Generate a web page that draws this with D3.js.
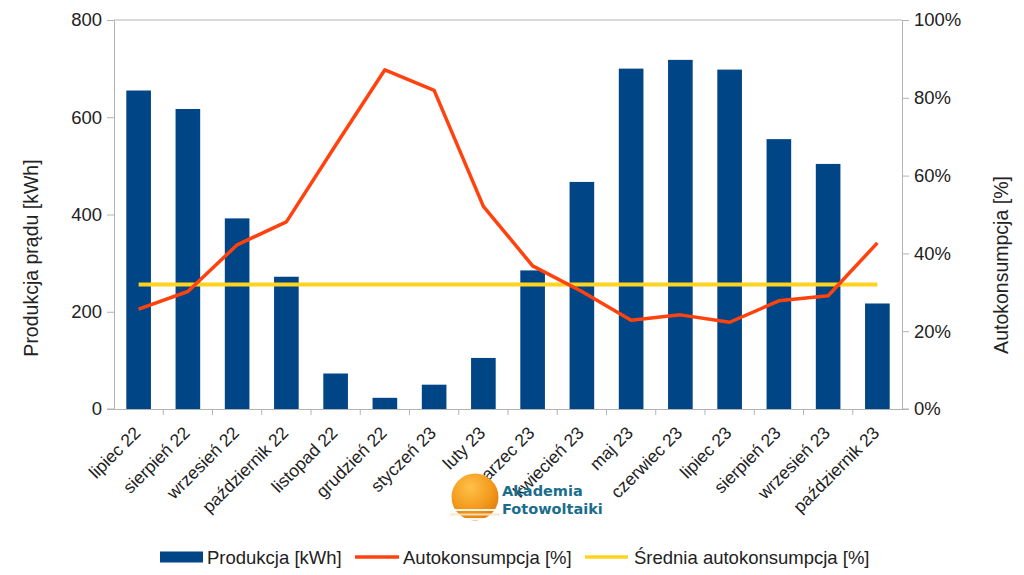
<!DOCTYPE html>
<html><head><meta charset="utf-8">
<script src="https://cdn.jsdelivr.net/npm/d3@7"></script>
<style>
body{margin:0;background:#fff;}
svg{display:block;font-family:"Liberation Sans",Arial,sans-serif;}
</style></head><body>
<svg id="c" width="1024" height="575"></svg>
<script>
const categories = ["lipiec 22","sierpień 22","wrzesień 22","październik 22","listopad 22","grudzień 22","styczeń 23","luty 23","marzec 23","kwiecień 23","maj 23","czerwiec 23","lipiec 23","sierpień 23","wrzesień 23","październik 23"];
const produkcja = [655,617,392,272,73,23,50,105,285,467,700,718,698,555,504,217];
const autokonsumpcja = [25.7,30.2,42.2,48.1,67.8,87.2,81.9,52.1,36.8,30.2,22.8,24.2,22.3,27.8,29.1,42.7];
const srednia = 32;
const leftTicks = [0,200,400,600,800];
const rightTicks = [0,20,40,60,80,100];

const svg = d3.select("#c");
const L=114, R=902, T=20, B=409;
const x = d3.scaleBand().domain(categories).range([L,R]).paddingInner(0).paddingOuter(0);
const yL = d3.scaleLinear().domain([0,800]).range([B,T]);
const yR = d3.scaleLinear().domain([0,100]).range([B,T]);
const grey="#b3b3b3";

svg.append("line").attr("x1",L).attr("x2",R).attr("y1",T).attr("y2",T).attr("stroke",grey).attr("stroke-width",1);

const bw = x.bandwidth()*0.5;
svg.append("g").selectAll("rect").data(produkcja).join("rect")
  .attr("x",(d,i)=>x(categories[i])+x.bandwidth()/2-bw/2)
  .attr("y",d=>yL(d)).attr("width",bw).attr("height",d=>B-yL(d))
  .attr("fill","#004586");

svg.append("line")
  .attr("x1",x(categories[0])+x.bandwidth()/2).attr("x2",x(categories[categories.length-1])+x.bandwidth()/2)
  .attr("y1",yR(srednia)).attr("y2",yR(srednia))
  .attr("stroke","#ffd320").attr("stroke-width",4);

const line = d3.line().x((d,i)=>x(categories[i])+x.bandwidth()/2).y(d=>yR(d));
svg.append("path").datum(autokonsumpcja).attr("d",line)
  .attr("fill","none").attr("stroke","#ff420e").attr("stroke-width",3.5).attr("stroke-linejoin","round");

const axL = d3.axisLeft(yL).tickValues(leftTicks).tickSize(7).tickPadding(5);
const gL = svg.append("g").attr("transform",`translate(${L},0)`).call(axL);
const axR = d3.axisRight(yR).tickValues(rightTicks).tickSize(7).tickPadding(5).tickFormat(d=>d+"%");
const gR = svg.append("g").attr("transform",`translate(${R},0)`).call(axR);
const axB = d3.axisBottom(x).tickSize(0).tickFormat("");
const gB = svg.append("g").attr("transform",`translate(0,${B})`).call(axB);
svg.append("g").selectAll("line").data(categories.slice(1)).join("line")
  .attr("x1",d=>x(d)).attr("x2",d=>x(d)).attr("y1",B).attr("y2",B+6).attr("stroke",grey);
svg.append("line").attr("x1",L-7).attr("x2",L).attr("y1",B).attr("y2",B).attr("stroke",grey);
svg.append("line").attr("x1",R).attr("x2",R+7).attr("y1",B).attr("y2",B).attr("stroke",grey);

[gL,gR,gB].forEach(g=>{
  g.selectAll(".domain").attr("stroke",grey);
  g.selectAll(".tick line").attr("stroke",grey);
  g.selectAll("text").attr("font-size",18.5).attr("fill","#222").attr("font-family","Liberation Sans, Arial, sans-serif");
});

svg.append("g").selectAll("text").data(categories).join("text")
  .attr("transform",d=>`translate(${x(d)+x.bandwidth()/2+3},${B+25}) rotate(-45)`)
  .attr("text-anchor","end").attr("font-size",17.5).attr("fill","#222").text(d=>d);

svg.append("text").attr("transform","translate(38,258) rotate(-90)").attr("text-anchor","middle")
  .attr("font-size",19.5).attr("fill","#222").text("Produkcja prądu [kWh]");
svg.append("text").attr("transform","translate(1008,265) rotate(-90)").attr("text-anchor","middle")
  .attr("font-size",19.5).attr("fill","#222").text("Autokonsumpcja [%]");

const defs = svg.append("defs");
const gr = defs.append("radialGradient").attr("id","sun").attr("cx","40%").attr("cy","30%").attr("r","70%");
gr.append("stop").attr("offset","0%").attr("stop-color","#ffc14a");
gr.append("stop").attr("offset","65%").attr("stop-color","#f39a1c");
gr.append("stop").attr("offset","100%").attr("stop-color","#e3800f");
svg.append("circle").attr("cx",475).attr("cy",497).attr("r",23.5).attr("fill","url(#sun)");
[0,1,2].forEach(k=>{
  svg.append("rect").attr("x",450).attr("y",509+k*4.5).attr("width",50).attr("height",2)
    .attr("fill",k%2? "#f4e6c8":"#fff").attr("opacity",0.9);
});
svg.append("text").attr("x",502).attr("y",496).attr("font-family","DejaVu Sans, Verdana, sans-serif")
  .attr("font-weight","bold").attr("font-size",14.5).attr("fill","#1b6d8c").text("Akademia");
svg.append("text").attr("x",502).attr("y",514).attr("font-family","DejaVu Sans, Verdana, sans-serif")
  .attr("font-weight","bold").attr("font-size",14.5).attr("fill","#1b6d8c").text("Fotowoltaiki");

const lg = svg.append("g");
lg.append("rect").attr("x",160).attr("y",551.5).attr("width",43).attr("height",11).attr("fill","#004586");
lg.append("text").attr("x",207).attr("y",564).attr("font-size",18.5).attr("fill","#222").text("Produkcja [kWh]");
lg.append("line").attr("x1",355).attr("x2",399).attr("y1",557).attr("y2",557).attr("stroke","#ff420e").attr("stroke-width",3.5);
lg.append("text").attr("x",403).attr("y",564).attr("font-size",18.5).attr("fill","#222").text("Autokonsumpcja [%]");
lg.append("line").attr("x1",585).attr("x2",628).attr("y1",557).attr("y2",557).attr("stroke","#ffd320").attr("stroke-width",3.5);
lg.append("text").attr("x",634).attr("y",564).attr("font-size",18.5).attr("fill","#222").text("Średnia autokonsumpcja [%]");
</script>
</body></html>
